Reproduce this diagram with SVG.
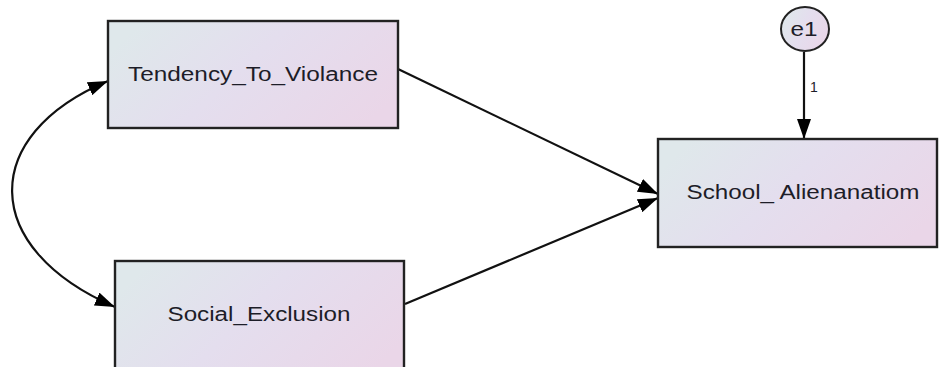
<svg xmlns="http://www.w3.org/2000/svg" width="939" height="367" viewBox="0 0 939 367">
  <style>
    .box { fill: url(#g); stroke: #222; stroke-width: 2.4; }
    .lbl { font-family: "Liberation Sans", Arial, sans-serif; font-size: 20px; fill: #1d1d28; }
    .small { font-family: "Liberation Sans", Arial, sans-serif; font-size: 14px; fill: #1d1d28; }
    .edge { fill: none; stroke: #111; stroke-width: 2.2; }
  </style>
  <defs>
    <linearGradient id="g" x1="0" y1="0.3" x2="1" y2="0.7">
      <stop offset="0" stop-color="#dfe8eb"/>
      <stop offset="0.45" stop-color="#e4deee"/>
      <stop offset="1" stop-color="#ead6e8"/>
    </linearGradient>
    <marker id="ah" markerUnits="userSpaceOnUse" markerWidth="20" markerHeight="14" refX="20" refY="7" orient="auto-start-reverse">
      <path d="M0,0 L20,7 L0,14 z" fill="#000"/>
    </marker>
  </defs>
  <rect width="939" height="367" fill="#fff"/>

  <g id="connectors">
    <path class="edge" d="M108,81 C-21,135 -21,248 115,307" marker-start="url(#ah)" marker-end="url(#ah)"/>
    <path class="edge" d="M398,69 L658,194" marker-end="url(#ah)"/>
    <path class="edge" d="M405,304 L658,198" marker-end="url(#ah)"/>
    <path class="edge" d="M804,52 L804,139" marker-end="url(#ah)"/>
    <text class="small" x="810" y="92">1</text>
  </g>

  <g id="tendency">
    <rect class="box" x="108" y="21" width="290" height="107"/>
    <text class="lbl" x="253" y="81" text-anchor="middle" textLength="250" lengthAdjust="spacingAndGlyphs">Tendency_To_Violance</text>
  </g>

  <g id="social">
    <rect class="box" x="115" y="261" width="289" height="115"/>
    <text class="lbl" x="259" y="321" text-anchor="middle" textLength="183" lengthAdjust="spacingAndGlyphs">Social_Exclusion</text>
  </g>

  <g id="school">
    <rect class="box" x="658" y="139" width="279" height="108"/>
    <text class="lbl" x="803" y="199" text-anchor="middle" textLength="233" lengthAdjust="spacingAndGlyphs">School_ Alienanatiom</text>
  </g>

  <g id="e1">
    <ellipse cx="805" cy="29" rx="24" ry="22" fill="url(#g)" stroke="#222" stroke-width="2"/>
    <text class="lbl" x="804" y="36" text-anchor="middle" textLength="27" lengthAdjust="spacingAndGlyphs">e1</text>
  </g>
</svg>
